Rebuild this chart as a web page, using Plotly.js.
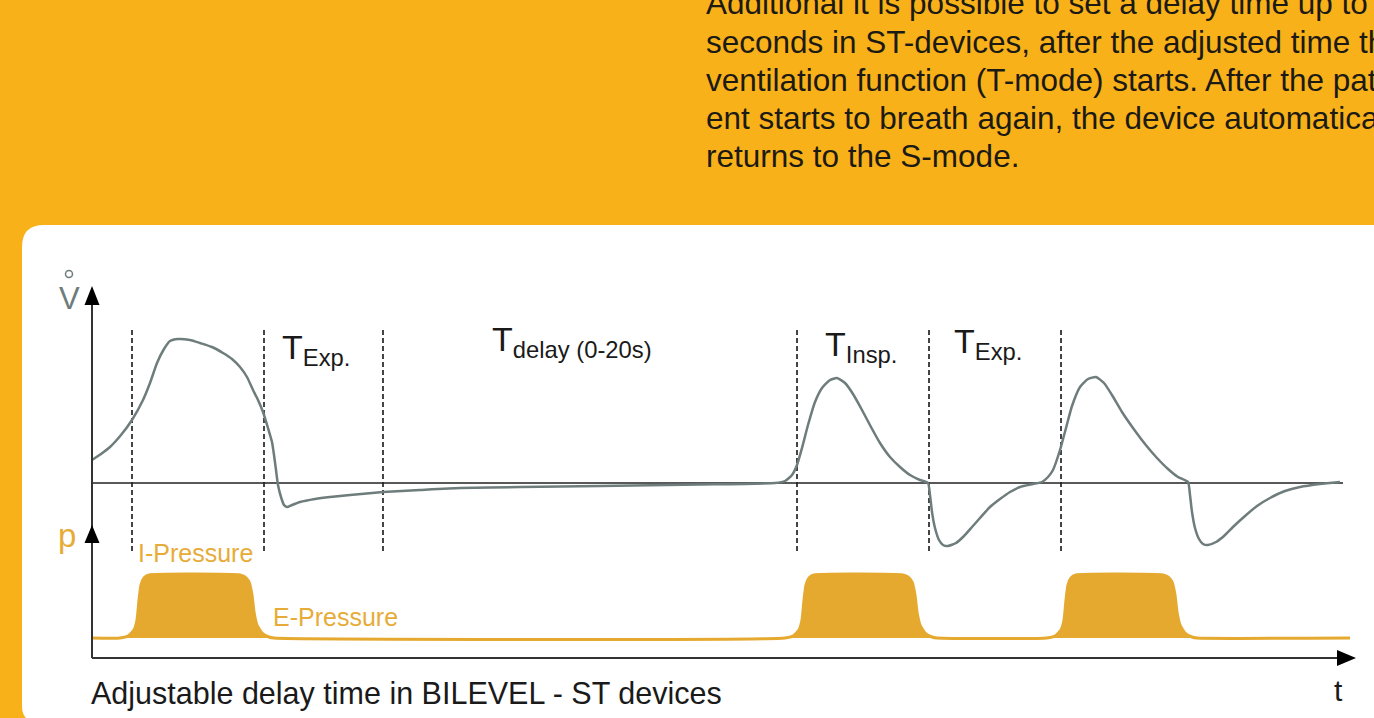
<!DOCTYPE html>
<html><head><meta charset="utf-8">
<script src="https://cdn.plot.ly/plotly-3.0.1.min.js"></script>
<style>html,body{margin:0;padding:0;background:#F9B11A;overflow:hidden}</style>
</head><body><div id="chart" style="width:1374px;height:718px"></div>
<script>
// ---- Data (arbitrary schematic units) ----
// Flow curve V-dot over time t
const flowT = [0,0.9,1.8,2.9,4.0,5.1,5.8,6.5,7.2,7.8,8.6,9.8,10.8,12.0,13.1,14.0,14.8,15.5,16.1,16.6,17.1,17.6,18.0,18.2,18.4,18.6,18.9,19.2,19.5,20.0,20.8,22.3,23.8,25.8,29.1,32.8,36.8,42.8,50.8,60.8,68.3,
  69.3,70.0,70.5,71.0,71.6,72.3,73.0,73.8,74.5,75.3,76.1,77.0,77.9,78.8,79.8,80.8,81.8,82.8,83.6,
  83.8,84.0,84.3,84.7,85.1,85.6,86.4,87.2,88.0,88.8,89.8,90.8,91.8,92.8,94.1,
  95.0,95.6,96.1,96.8,97.4,98.0,98.8,99.6,100.4,101.2,102.0,103.0,104.1,105.3,106.5,107.6,108.6,109.6,
  109.8,110.0,110.3,110.7,111.1,111.6,112.4,113.2,114.2,115.3,116.5,117.8,119.3,120.8,122.8,124.8];
const flowV = [2.3,2.9,3.6,4.8,6.3,8.3,10.0,12.0,13.4,14.2,14.4,14.3,14.0,13.6,13.0,12.4,11.6,10.6,9.3,8.3,7.1,5.5,4.1,2.8,1.3,-0.2,-1.4,-2.2,-2.4,-2.2,-1.9,-1.6,-1.4,-1.2,-0.9,-0.7,-0.5,-0.4,-0.3,-0.15,0,
  0.2,0.8,1.8,3.5,5.8,8.1,9.5,10.3,10.5,10.0,8.9,7.3,5.6,4.0,2.6,1.6,0.8,0.3,0,
  -1.2,-2.9,-4.5,-5.7,-6.2,-6.3,-6.0,-5.3,-4.4,-3.5,-2.4,-1.6,-0.9,-0.4,-0.1,
  0.1,0.6,1.3,3.3,5.5,7.7,9.6,10.4,10.6,10.0,8.8,7.1,5.5,3.9,2.5,1.4,0.6,0.1,
  -1.2,-2.9,-4.5,-5.6,-6.1,-6.2,-5.9,-5.3,-4.3,-3.3,-2.3,-1.5,-0.8,-0.4,-0.1,0.1];
// Pressure curve p over time t (E-Pressure = 0, I-Pressure = 6.3)
const presT = [0,2.8,3.6,4.2,4.5,4.7,4.9,5.2,5.7,14.8,15.3,15.7,16.0,16.2,16.5,17.0,17.7,18.2,
  69.3,70.1,70.7,71.0,71.2,71.4,71.7,72.2,81.1,81.6,82.0,82.3,82.5,82.8,83.3,84.0,84.5,
  95.5,96.3,96.9,97.2,97.4,97.6,97.9,98.4,107.1,107.6,108.0,108.3,108.5,108.8,109.3,110.0,110.5,125.8];
const presP = [0,0,0.2,0.8,1.8,3.8,5.3,6.0,6.3,6.3,6.1,5.6,4.3,2.6,1.3,0.5,0.1,0,
  0,0.2,0.8,1.8,3.8,5.3,6.0,6.3,6.3,6.1,5.6,4.3,2.6,1.3,0.5,0.1,0,
  0,0.2,0.8,1.8,3.8,5.3,6.0,6.3,6.3,6.1,5.6,4.3,2.6,1.3,0.5,0.1,0,0];
// Phase boundaries (dashed lines)
const phaseTimes = [4.0, 17.2, 29.1, 70.5, 83.7, 96.9];
const phaseSpan = [15.3, -6.9];
// Phase labels
const phaseLabels = ["T<sub>Exp.</sub>", "T<sub>delay (0-20s)</sub>", "T<sub>Insp.</sub>", "T<sub>Exp.</sub>"];
const phaseLabelT = [18.8, 39.8, 73.1, 86.0];
const phaseLabelV = [15.7, 16.5, 16.0, 16.3];
const textLines = [
  "Additional it is possible to set a delay time up to 20",
  "seconds in ST-devices, after the adjusted time the",
  "ventilation function (T-mode) starts. After the pati-",
  "ent starts to breath again, the device automatically",
  "returns to the S-mode."
];
const textLineY = [3, 42, 80, 118, 156];
const caption = "Adjustable delay time in BILEVEL - ST devices";

// ---- Layout helpers ----
const W = 1374, H = 718;
const px = x => x / W, py = y => 1 - y / H;
const P = (x, y) => px(x).toFixed(5) + ',' + py(y).toFixed(5);

const FLOW = '#6E7C7C', ORANGE = '#E5A930', ORTXT = '#E7AC38';
const FONT = 'Liberation Sans, Arial, sans-serif';

// dashed phase lines
const dx = [], dy = [];
phaseTimes.forEach(t => { dx.push(t, t, null); dy.push(phaseSpan[0], phaseSpan[1], null); });

const traces = [
  {x: presT, y: presP, yaxis: 'y2', mode: 'lines', line: {color: ORANGE, width: 3, shape: 'spline', smoothing: 0.5},
   fill: 'tozeroy', fillcolor: ORANGE, hoverinfo: 'skip'},
  {x: dx, y: dy, mode: 'lines', line: {color: '#444', width: 2, dash: '5px,3px'}, hoverinfo: 'skip'},
  {x: [0, 125.1], y: [0, 0], mode: 'lines', line: {color: '#222', width: 1.5}, hoverinfo: 'skip'},
  {x: flowT, y: flowV, mode: 'lines', line: {color: FLOW, width: 2.5, shape: 'spline', smoothing: 0.5}, hoverinfo: 'skip'}
];

const shapes = [
  {type: 'path', xref: 'paper', yref: 'paper', layer: 'below', fillcolor: '#FFFFFF', line: {width: 0},
   path: 'M' + P(22, 247) + ' Q' + P(22, 225) + ' ' + P(44, 225) + ' L' + P(1400, 225) + ' L' + P(1400, 722) +
         ' L' + P(38, 722) + ' Q' + P(22, 722) + ' ' + P(22, 706) + ' Z'},
  {type: 'line', xref: 'x', yref: 'y', x0: 0, x1: 0, y0: 17.9, y1: -17.5, line: {color: '#333', width: 2}},
  {type: 'line', xref: 'x', yref: 'y', x0: 0, x1: 124.8, y0: -17.5, y1: -17.5, line: {color: '#333', width: 2}},
  {type: 'path', xref: 'x', yref: 'y', fillcolor: '#000', line: {width: 0}, path: 'M -0.75,17.8 L 0,19.7 L 0.75,17.8 Z'},
  {type: 'path', xref: 'x', yref: 'y', fillcolor: '#000', line: {width: 0}, path: 'M -0.75,-6.0 L 0,-4.2 L 0.75,-6.0 Z'},
  {type: 'path', xref: 'x', yref: 'y', fillcolor: '#000', line: {width: 0}, path: 'M 124.5,-16.7 L 126.4,-17.5 L 124.5,-18.3 Z'},
  {type: 'circle', xref: 'x', yref: 'y', x0: -2.65, x1: -1.95, y0: 20.55, y1: 21.25, line: {color: FLOW, width: 1.5}}
];

const annotations = [];
textLines.forEach((s, i) => annotations.push({xref: 'paper', yref: 'paper', x: px(704), y: py(textLineY[i]),
  xanchor: 'left', yanchor: 'middle', text: s, showarrow: false,
  font: {family: FONT, size: 31.5, color: '#1c1a14'}}));
phaseLabels.forEach((s, i) => annotations.push({xref: 'x', yref: 'y', x: phaseLabelT[i], y: phaseLabelV[i],
  xanchor: 'left', yanchor: 'top', text: s, showarrow: false,
  font: {family: FONT, size: 34, color: '#1a1a1a'}}));
annotations.push(
  {xref: 'x', yref: 'y', x: -2.3, y: 18.5, text: 'V', showarrow: false, xanchor: 'center', yanchor: 'middle',
   font: {family: FONT, size: 31, color: FLOW}},
  {xref: 'x', yref: 'y', x: -2.5, y: -5.2, text: 'p', showarrow: false, xanchor: 'center', yanchor: 'middle',
   font: {family: FONT, size: 33, color: ORTXT}},
  {xref: 'x', yref: 'y', x: 4.4, y: -7.0, text: 'I-Pressure', showarrow: false, xanchor: 'left', yanchor: 'middle',
   font: {family: FONT, size: 25, color: ORTXT}},
  {xref: 'x', yref: 'y', x: 17.9, y: -13.4, text: 'E-Pressure', showarrow: false, xanchor: 'left', yanchor: 'middle',
   font: {family: FONT, size: 25, color: ORTXT}},
  {xref: 'x', yref: 'y', x: 124.6, y: -20.7, text: 't', showarrow: false, xanchor: 'center', yanchor: 'middle',
   font: {family: FONT, size: 30, color: '#1a1a1a'}},
  {xref: 'x', yref: 'y', x: -0.3, y: -21.0, text: caption, showarrow: false, xanchor: 'left', yanchor: 'middle',
   font: {family: FONT, size: 30.5, color: '#1a1a1a'}}
);

const layout = {
  width: W, height: H, margin: {l: 0, r: 0, t: 0, b: 0},
  paper_bgcolor: '#F9B11A', plot_bgcolor: 'rgba(0,0,0,0)', showlegend: false,
  xaxis: {range: [-9.2, 128.2], visible: false, fixedrange: true},
  yaxis: {range: [-23.5, 48.3], visible: false, fixedrange: true},
  yaxis2: {range: [-8, 63.8], visible: false, overlaying: 'y', fixedrange: true},
  shapes: shapes, annotations: annotations
};
Plotly.newPlot('chart', traces, layout, {displayModeBar: false, staticPlot: true});
</script></body></html>
